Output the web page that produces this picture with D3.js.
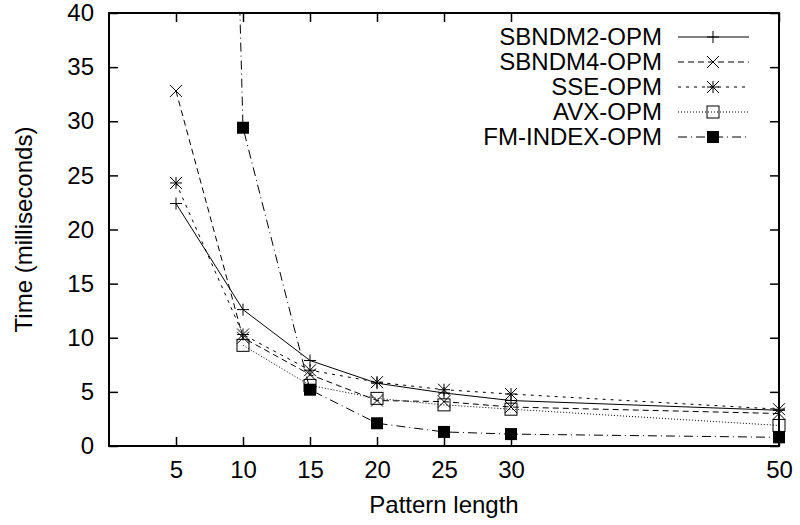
<!DOCTYPE html>
<html>
<head>
<meta charset="utf-8">
<script src="https://cdn.jsdelivr.net/npm/d3@7.9.0/dist/d3.min.js"></script>
<style>
  body { margin: 0; background: #fff; }
  svg { font-family: "Liberation Sans", Arial, sans-serif; }
</style>
</head>
<body>
<svg width="800" height="525"></svg>
<script>
// pattern lengths and timings (ms); null = not measured
const lengths = [5, 10, 15, 20, 25, 30, 50];
const sbndm2 = [22.4, 12.6, 7.9, 5.8, 4.9, 4.2, 3.3];
const sbndm4 = [32.8, 10.0, 6.6, 4.2, 4.1, 3.6, 3.0];
const sse = [24.3, 10.3, 7.0, 5.9, 5.2, 4.8, 3.4];
const avx = [null, 9.3, 5.6, 4.4, 3.8, 3.4, 1.9];
const fmIndex = [260, 29.4, 5.2, 2.1, 1.3, 1.1, 0.8];
const yTicks = [0, 5, 10, 15, 20, 25, 30, 35, 40];

const series = [
  { name: 'SBNDM2-OPM', values: sbndm2, dash: null, sym: 'plus' },
  { name: 'SBNDM4-OPM', values: sbndm4, dash: '6,4', sym: 'cross' },
  { name: 'SSE-OPM', values: sse, dash: '3,5', sym: 'star' },
  { name: 'AVX-OPM', values: avx, dash: '1,2', sym: 'box' },
  { name: 'FM-INDEX-OPM', values: fmIndex, dash: '9,4,1,4', sym: 'fbox' }
];

const svg = d3.select('svg');
const mLeft = 109, mRight = 779, mTop = 13, mBottom = 446;
const fs = 24;

const x = d3.scaleLinear().domain([0, 50]).range([mLeft, mRight]);
const y = d3.scaleLinear().domain([0, 40]).range([mBottom, mTop]);

svg.append('defs').append('clipPath').attr('id', 'plot')
  .append('rect').attr('x', mLeft).attr('y', mTop)
  .attr('width', mRight - mLeft).attr('height', mBottom - mTop);

// draw a point symbol at (cx, cy)
function symbol(g, sym, cx, cy) {
  const s = 6;
  if (sym === 'plus' || sym === 'star') {
    g.append('path').attr('d', `M${cx - s},${cy}H${cx + s}M${cx},${cy - s}V${cy + s}`)
      .attr('stroke', '#000').attr('stroke-width', 1);
  }
  if (sym === 'cross' || sym === 'star') {
    g.append('path').attr('d', `M${cx - s},${cy - s}L${cx + s},${cy + s}M${cx - s},${cy + s}L${cx + s},${cy - s}`)
      .attr('stroke', '#000').attr('stroke-width', 1);
  }
  if (sym === 'box') {
    g.append('rect').attr('x', cx - s).attr('y', cy - s).attr('width', 2 * s).attr('height', 2 * s)
      .attr('fill', 'none').attr('stroke', '#000').attr('stroke-width', 1);
  }
  if (sym === 'fbox') {
    g.append('rect').attr('x', cx - s).attr('y', cy - s).attr('width', 2 * s).attr('height', 2 * s)
      .attr('fill', '#000');
  }
}

const line = d3.line()
  .defined(d => d != null)
  .x((d, i) => x(lengths[i])).y(d => y(d));

const plot = svg.append('g').attr('clip-path', 'url(#plot)');
const marks = svg.append('g');
series.forEach(s => {
  plot.append('path')
    .attr('d', line(s.values))
    .attr('fill', 'none')
    .attr('stroke', '#000')
    .attr('stroke-width', 1)
    .attr('stroke-dasharray', s.dash);
  s.values.forEach((v, i) => {
    if (v != null && v <= 40) symbol(marks, s.sym, x(lengths[i]), y(v));
  });
});

// axes (gnuplot style: ticks inward, mirrored)
const axisB = svg.append('g').attr('transform', `translate(0,${mBottom})`)
  .call(d3.axisBottom(x).tickValues(lengths).tickSizeInner(-9).tickSizeOuter(0).tickPadding(15));
const axisT = svg.append('g').attr('transform', `translate(0,${mTop})`)
  .call(d3.axisTop(x).tickValues(lengths).tickSizeInner(-9).tickSizeOuter(0).tickFormat(''));
const axisL = svg.append('g').attr('transform', `translate(${mLeft},0)`)
  .call(d3.axisLeft(y).tickValues(yTicks).tickSizeInner(-9).tickSizeOuter(0).tickPadding(15));
const axisR = svg.append('g').attr('transform', `translate(${mRight},0)`)
  .call(d3.axisRight(y).tickValues(yTicks).tickSizeInner(-9).tickSizeOuter(0).tickFormat(''));

[axisB, axisT, axisL, axisR].forEach(a => {
  a.select('.domain').remove();
  a.selectAll('.tick line').attr('stroke', '#000').attr('stroke-width', 1.5);
  a.selectAll('.tick text').attr('font-size', fs).attr('fill', '#000')
    .attr('font-family', '"Liberation Sans", Arial, sans-serif');
});

svg.append('rect').attr('x', mLeft).attr('y', mTop)
  .attr('width', mRight - mLeft).attr('height', mBottom - mTop)
  .attr('fill', 'none').attr('stroke', '#000').attr('stroke-width', 2);

// axis titles
svg.append('text').attr('x', (mLeft + mRight) / 2).attr('y', 513)
  .attr('text-anchor', 'middle').attr('font-size', fs).text('Pattern length');
svg.append('text').attr('transform', `translate(32,${(mTop + mBottom) / 2}) rotate(-90)`)
  .attr('text-anchor', 'middle').attr('font-size', fs).text('Time (milliseconds)');

// legend
const legend = svg.append('g');
series.forEach((s, i) => {
  const ly = 37 + i * 25;
  legend.append('text').attr('x', 662).attr('y', ly).attr('dy', '0.35em')
    .attr('text-anchor', 'end').attr('font-size', fs).text(s.name);
  legend.append('line').attr('x1', 678).attr('x2', 749).attr('y1', ly).attr('y2', ly)
    .attr('stroke', '#000').attr('stroke-width', 1).attr('stroke-dasharray', s.dash);
  symbol(legend, s.sym, 713, ly);
});
</script>
</body>
</html>
